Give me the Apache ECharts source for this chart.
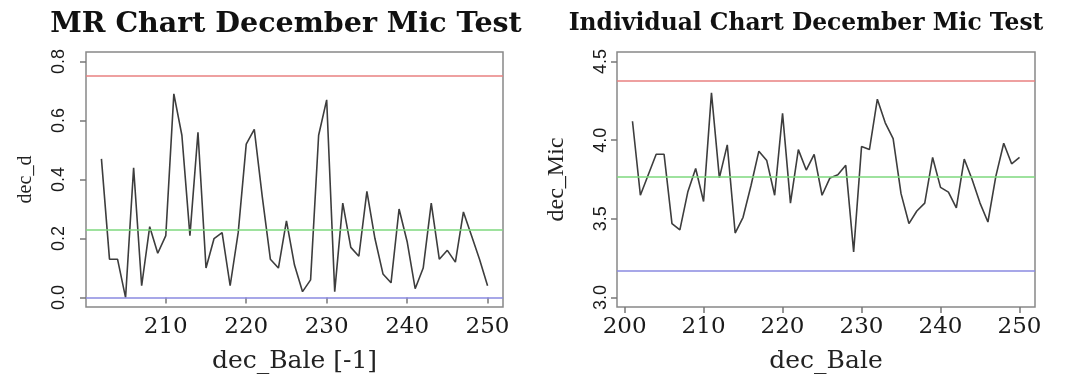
<!DOCTYPE html>
<html>
<head>
<meta charset="utf-8">
<script src="https://cdn.jsdelivr.net/npm/echarts@6/dist/echarts.min.js"></script>
<style>
  html, body { margin: 0; padding: 0; background: #fff; }
  #chart { width: 1065px; height: 374px; }
</style>
</head>
<body>
<div id="chart"></div>
<script>
// moving range chart: bales 202..250
const mrBales = [];
for (let b = 202; b <= 250; b++) mrBales.push(b);
const mrValues = [
  0.47, 0.13, 0.13, 0.0, 0.44, 0.04, 0.24, 0.15, 0.21, 0.69,
  0.55, 0.21, 0.56, 0.10, 0.20, 0.22, 0.04, 0.22, 0.52, 0.57,
  0.34, 0.13, 0.10, 0.26, 0.11, 0.02, 0.06, 0.55, 0.67, 0.02,
  0.32, 0.17, 0.14, 0.36, 0.20, 0.08, 0.05, 0.30, 0.19, 0.03,
  0.10, 0.32, 0.13, 0.16, 0.12, 0.29, 0.21, 0.13, 0.04
];
const mrLimits = { ucl: 0.75, center: 0.228, lcl: 0.0 };

// individual chart: bales 201..250
const indBales = [];
for (let b = 201; b <= 250; b++) indBales.push(b);
const indValues = [
  4.12, 3.65, 3.78, 3.91, 3.91, 3.47, 3.43, 3.67, 3.82, 3.61,
  4.30, 3.76, 3.97, 3.41, 3.51, 3.71, 3.93, 3.87, 3.65, 4.17,
  3.60, 3.94, 3.81, 3.91, 3.65, 3.76, 3.78, 3.84, 3.29, 3.96,
  3.94, 4.26, 4.11, 4.01, 3.66, 3.47, 3.55, 3.60, 3.89, 3.70,
  3.67, 3.57, 3.88, 3.75, 3.60, 3.48, 3.77, 3.98, 3.85, 3.89
];
const indLimits = { ucl: 4.382, center: 3.775, lcl: 3.166 };

const mrXTicks = [210, 220, 230, 240, 250];
const mrYTicks = [0.0, 0.2, 0.4, 0.6, 0.8];
const indXTicks = [200, 210, 220, 230, 240, 250];
const indYTicks = [3.0, 3.5, 4.0, 4.5];

const chart = echarts.init(document.getElementById("chart"));

const serif = "DejaVu Serif";
const narrow = "Liberation Sans Narrow, Liberation Sans";
const limitColors = ["#e88080", "#7ed87e", "#8a8ae0"];

function limitLines(lim) {
  return {
    silent: true,
    symbol: "none",
    label: { show: false },
    data: [
      { yAxis: lim.ucl, lineStyle: { color: limitColors[0] } },
      { yAxis: lim.center, lineStyle: { color: limitColors[1] } },
      { yAxis: lim.lcl, lineStyle: { color: limitColors[2] } },
    ],
    lineStyle: { type: "solid", width: 1.5 },
  };
}

function xAxis(idx, min, max, ticks, name) {
  return {
    type: "value",
    gridIndex: idx,
    min: min,
    max: max,
    name: name,
    nameLocation: "middle",
    nameGap: 42,
    nameTextStyle: { fontFamily: serif, fontSize: 25, color: "#222" },
    axisLine: { show: false },
    splitLine: { show: false },
    axisTick: { show: true, length: 6, customValues: ticks, lineStyle: { color: "#777", width: 1.5 } },
    axisLabel: { customValues: ticks, fontFamily: serif, fontSize: 23, color: "#1a1a1a", margin: 9 },
  };
}

function yAxis(idx, min, max, ticks, name, nameSize, nameGap, labelSize, labelMargin) {
  return {
    type: "value",
    gridIndex: idx,
    min: min,
    max: max,
    name: name,
    nameLocation: "middle",
    nameGap: nameGap,
    nameTextStyle: { fontFamily: "Liberation Serif", fontSize: nameSize, color: "#222" },
    axisLine: { show: false },
    splitLine: { show: false },
    axisTick: { show: true, length: 6, customValues: ticks, lineStyle: { color: "#777", width: 1.5 } },
    axisLabel: {
      customValues: ticks,
      rotate: 90,
      fontFamily: narrow,
      fontSize: labelSize,
      color: "#1a1a1a",
      margin: labelMargin,
      formatter: (v) => v.toFixed(1),
    },
  };
}

const option = {
  backgroundColor: "#ffffff",
  animation: false,
  title: [
    {
      text: "MR Chart December Mic Test",
      left: 281,
      top: 5,
      textAlign: "center",
      textStyle: { fontFamily: serif, fontWeight: "bold", fontSize: 28.5, color: "#111" },
    },
    {
      text: "Individual Chart December Mic Test",
      left: 801,
      top: 7,
      textAlign: "center",
      textStyle: { fontFamily: serif, fontWeight: "bold", fontSize: 23.4, color: "#111" },
    },
  ],
  grid: [
    { left: 86, top: 52, width: 417, height: 255, outerBoundsMode: "none", show: true, borderColor: "#888", borderWidth: 1.5, backgroundColor: "transparent" },
    { left: 617, top: 52, width: 418, height: 255, outerBoundsMode: "none", show: true, borderColor: "#888", borderWidth: 1.5, backgroundColor: "transparent" },
  ],
  xAxis: [
    xAxis(0, 200.08, 251.92, mrXTicks, "dec_Bale [-1]"),
    xAxis(1, 199.04, 251.96, indXTicks, "dec_Bale"),
  ],
  yAxis: [
    yAxis(0, -0.032, 0.832, mrYTicks, "dec_d", 20, 50, 18, 18),
    yAxis(1, 2.94, 4.56, indYTicks, "dec_Mic", 24, 48, 18, 7),
  ],
  series: [
    {
      type: "line",
      xAxisIndex: 0,
      yAxisIndex: 0,
      data: mrBales.map((b, i) => [b, mrValues[i]]),
      symbol: "none",
      lineStyle: { color: "#3d3d3d", width: 1.6 },
      markLine: limitLines(mrLimits),
      z: 3,
    },
    {
      type: "line",
      xAxisIndex: 1,
      yAxisIndex: 1,
      data: indBales.map((b, i) => [b, indValues[i]]),
      symbol: "none",
      lineStyle: { color: "#3d3d3d", width: 1.6 },
      markLine: limitLines(indLimits),
      z: 3,
    },
  ],
};

chart.setOption(option);
</script>
</body>
</html>
